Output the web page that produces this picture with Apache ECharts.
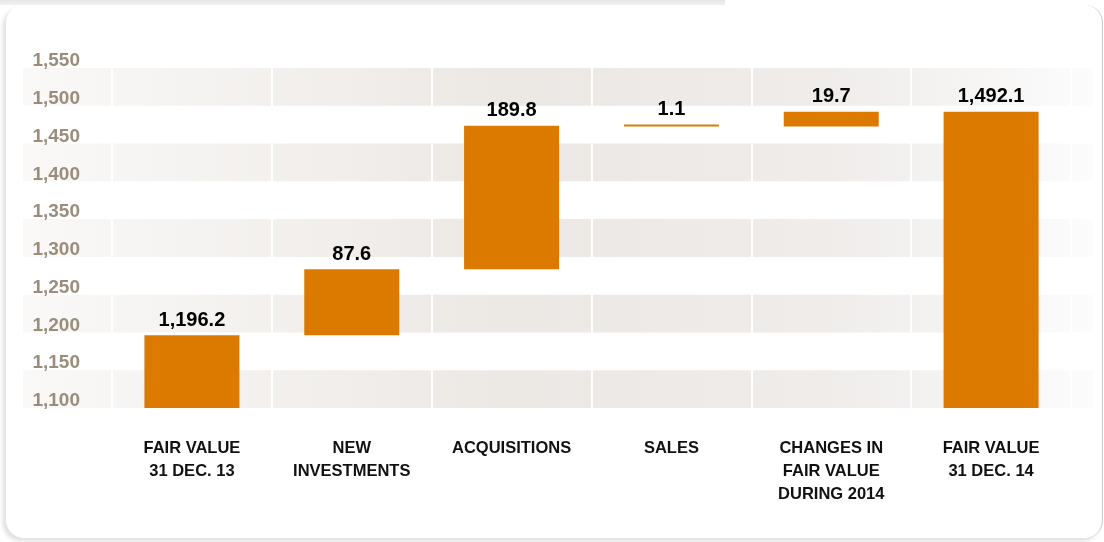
<!DOCTYPE html>
<html>
<head>
<meta charset="utf-8">
<script src="https://cdn.jsdelivr.net/npm/echarts@6/dist/echarts.min.js"></script>
<style>
  html, body { margin: 0; padding: 0; background: #fff; }
  #strip { position: absolute; left: 0; top: 0; width: 725px; height: 5px;
           background: linear-gradient(to bottom, #e6e6e6, #f2f2f2); }
  #card { position: absolute; left: 6px; top: 5px; width: 1096px; height: 533px;
          background: #fff; border-radius: 18px; border-right: 1px solid #c8c8c8;
          box-shadow: -3px 3px 4px rgba(0,0,0,0.13); }
  #chart { position: absolute; left: 0; top: 0; width: 1104px; height: 542px; }
</style>
</head>
<body>
<div id="strip"></div>
<div id="card"></div>
<div id="chart"></div>
<script>
    // waterfall: fair value bridge 2013 -> 2014
    var categories = ['FAIR VALUE\n31 DEC. 13', 'NEW\nINVESTMENTS', 'ACQUISITIONS', 'SALES',
                      'CHANGES IN\nFAIR VALUE\nDURING 2014', 'FAIR VALUE\n31 DEC. 14'];
    var amounts = [1196.2, 87.6, 189.8, -1.1, 19.7, 1492.1];
    var isTotal = [true, false, false, false, false, true];
    var yMin = 1100, yMax = 1550, yStep = 50;

    var font = '"Liberation Sans", Arial, sans-serif';
    var fmt = function (v) {
        return Math.abs(v).toLocaleString('en-US', {minimumFractionDigits: 1, maximumFractionDigits: 1});
    };

    // build the invisible base and the visible step from the amounts
    var base = [], step = [], running = 0;
    amounts.forEach(function (v, i) {
        if (isTotal[i]) {
            base.push(yMin); step.push(v - yMin); running = v;
        } else if (v >= 0) {
            base.push(running); step.push(v); running += v;
        } else {
            running += v; base.push(running); step.push(-v);
        }
    });

    var band = new echarts.graphic.LinearGradient(0, 0, 1, 0, [
        {offset: 0, color: '#faf9f8'},
        {offset: 0.45, color: '#ece8e4'},
        {offset: 0.75, color: '#efecea'},
        {offset: 1, color: '#fcfcfc'}
    ]);

    var chart = echarts.init(document.getElementById('chart'), null, {renderer: 'canvas'});
    chart.setOption({
        animation: false,
        grid: [
            {left: 23, right: 11, top: 68, bottom: 134},
            {left: 112, right: 33, top: 68, bottom: 134}
        ],
        xAxis: [
            {gridIndex: 0, type: 'value', show: false, min: 0, max: 1},
            {
                gridIndex: 1, type: 'category', data: categories, z: 1,
                axisLine: {show: false}, axisTick: {show: false},
                splitLine: {show: true, lineStyle: {color: '#ffffff', width: 2}},
                axisLabel: {
                    margin: 29, color: '#111111', fontFamily: font, fontWeight: 'bold',
                    fontSize: 16.5, lineHeight: 23, interval: 0
                }
            }
        ],
        yAxis: [
            {
                gridIndex: 0, type: 'value', min: yMin, max: yMax, interval: yStep, z: 0,
                axisLabel: {show: false}, axisLine: {show: false}, axisTick: {show: false},
                splitLine: {show: false},
                splitArea: {show: true, areaStyle: {color: [band, 'rgba(255,255,255,0)']}}
            },
            {
                gridIndex: 1, type: 'value', min: yMin, max: yMax, interval: yStep,
                axisLine: {show: false}, axisTick: {show: false}, splitLine: {show: false},
                axisLabel: {
                    margin: 32, color: '#9a8d7c', fontFamily: font, fontWeight: 'bold',
                    fontSize: 19, verticalAlign: 'bottom', lineHeight: 14,
                    formatter: function (v) { return v.toLocaleString('en-US'); }
                }
            }
        ],
        series: [
            {
                type: 'bar', xAxisIndex: 1, yAxisIndex: 1, stack: 'wf', barWidth: 95,
                itemStyle: {color: 'rgba(0,0,0,0)'}, silent: true, data: base
            },
            {
                type: 'bar', xAxisIndex: 1, yAxisIndex: 1, stack: 'wf', barWidth: 95,
                barMinHeight: 2, itemStyle: {color: '#dc7a00'}, data: step,
                label: {
                    show: true, position: 'top', distance: 5, color: '#000',
                    fontFamily: font, fontWeight: 'bold', fontSize: 20,
                    formatter: function (p) { return fmt(amounts[p.dataIndex]); }
                }
            }
        ]
    });
</script>
</body>
</html>
